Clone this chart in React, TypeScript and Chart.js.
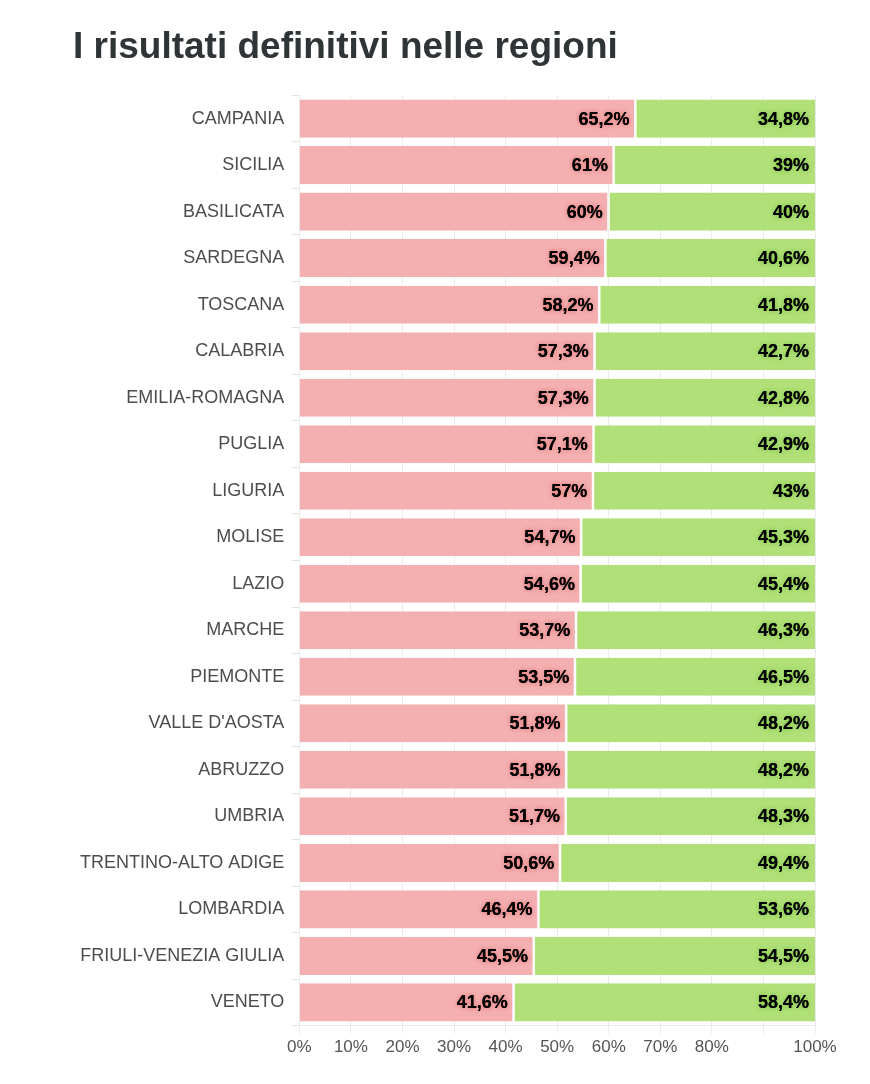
import Chart from "chart.js/auto";
import { useEffect, useRef } from "react";

const regions = [
  "CAMPANIA",
  "SICILIA",
  "BASILICATA",
  "SARDEGNA",
  "TOSCANA",
  "CALABRIA",
  "EMILIA-ROMAGNA",
  "PUGLIA",
  "LIGURIA",
  "MOLISE",
  "LAZIO",
  "MARCHE",
  "PIEMONTE",
  "VALLE D'AOSTA",
  "ABRUZZO",
  "UMBRIA",
  "TRENTINO-ALTO ADIGE",
  "LOMBARDIA",
  "FRIULI-VENEZIA GIULIA",
  "VENETO",
];

const noValues = [
  65.2, 61, 60, 59.4, 58.2, 57.3, 57.3, 57.1, 57, 54.7, 54.6, 53.7, 53.5, 51.8,
  51.8, 51.7, 50.6, 46.4, 45.5, 41.6,
];

const yesValues = [
  34.8, 39, 40, 40.6, 41.8, 42.7, 42.8, 42.9, 43, 45.3, 45.4, 46.3, 46.5, 48.2,
  48.2, 48.3, 49.4, 53.6, 54.5, 58.4,
];

const xTicks = [0, 10, 20, 30, 40, 50, 60, 70, 80, 100];

const FONT = "'Liberation Sans', Arial, Helvetica, sans-serif";
const RED = "#f4b0b1";
const GREEN = "#b1e079";

const formatPct = (v: number) => String(v).replace(".", ",") + "%";

const valueLabels = {
  id: "valueLabels",
  afterDatasetsDraw(chart: Chart) {
    const ctx = chart.ctx;
    ctx.save();
    ctx.font = `bold 18px ${FONT}`;
    ctx.textAlign = "right";
    ctx.textBaseline = "middle";
    chart.data.datasets.forEach((ds, di) => {
      const meta = chart.getDatasetMeta(di);
      const glow = di === 0 ? "rgba(220,100,100,1)" : "rgba(110,190,50,1)";
      meta.data.forEach((el: any, i) => {
        const v = ds.data[i] as number;
        const x = Math.min(el.x, chart.chartArea.right) - 6;
        ctx.shadowColor = glow;
        ctx.shadowBlur = 5;
        ctx.fillStyle = "#000";
        ctx.fillText(formatPct(v), x, el.y + 1);
        ctx.shadowBlur = 0;
        ctx.fillText(formatPct(v), x, el.y + 1);
      });
    });
    ctx.restore();
  },
};

export default function App() {
  const chartRef = useRef<HTMLCanvasElement>(null);

  useEffect(() => {
    const chart = new Chart(chartRef.current!, {
      type: "bar",
      data: {
        labels: regions,
        datasets: [
          {
            label: "No",
            data: noValues,
            backgroundColor: RED,
            borderColor: "#ffffff",
            borderWidth: { right: 1.5 },
            borderSkipped: false,
          },
          {
            label: "Sì",
            data: yesValues,
            backgroundColor: GREEN,
            borderColor: "#ffffff",
            borderWidth: { left: 1 },
            borderSkipped: false,
          },
        ],
      },
      options: {
        indexAxis: "y",
        animation: false,
        responsive: true,
        maintainAspectRatio: false,
        datasets: {
          bar: { categoryPercentage: 1, barPercentage: 0.82 },
        },
        layout: { padding: { left: 65, right: 47, bottom: 14 } },
        plugins: {
          legend: { display: false },
          tooltip: { enabled: false },
          title: {
            display: true,
            text: "I risultati definitivi nelle regioni",
            align: "start",
            color: "#2f3436",
            font: { family: FONT, size: 37, weight: "bold" },
            padding: { top: 18, bottom: 25 },
          },
        },
        scales: {
          x: {
            stacked: true,
            min: 0,
            max: 100,
            afterBuildTicks: (axis) => {
              axis.ticks = [...xTicks, 90].map((value) => ({ value }));
            },
            ticks: {
              color: "#555",
              font: { family: FONT, size: 17 },
              padding: 4,
              callback: (v) => (xTicks.includes(Number(v)) ? v + "%" : ""),
            },
            grid: { color: "#ebebeb", tickLength: 8 },
            border: { color: "#ebebeb" },
          },
          y: {
            stacked: true,
            ticks: {
              color: "#4d4d4d",
              font: { family: FONT, size: 18 },
              padding: 7,
            },
            grid: { drawOnChartArea: false, color: "#e3e3e3", tickLength: 8 },
            border: { display: false },
          },
        },
      },
      plugins: [valueLabels],
    });

    return () => chart.destroy();
  }, []);

  return (
    <div style={{ position: "relative", width: 854, height: 1068 }}>
      <canvas ref={chartRef}></canvas>
    </div>
  );
}
